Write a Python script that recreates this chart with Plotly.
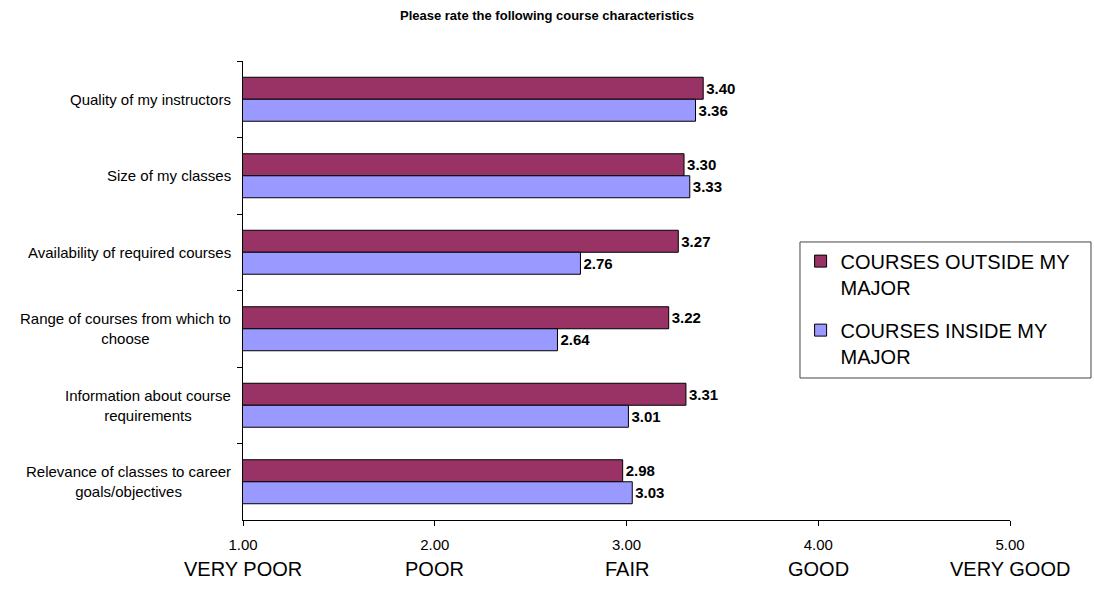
import plotly.graph_objects as go

categories = [
    "Quality of my instructors",
    "Size of my classes",
    "Availability of required courses",
    "Range of courses from which to<br>choose",
    "Information about course<br>requirements",
    "Relevance of classes to career<br>goals/objectives",
]
outside_major = [3.40, 3.30, 3.27, 3.22, 3.31, 2.98]
inside_major = [3.36, 3.33, 2.76, 2.64, 3.01, 3.03]
tick_values = [1, 2, 3, 4, 5]
tick_labels = ["1.00", "2.00", "3.00", "4.00", "5.00"]
scale_labels = ["VERY POOR", "POOR", "FAIR", "GOOD", "VERY GOOD"]

FONT = "Arial, Liberation Sans, sans-serif"

fig = go.Figure()
fig.add_trace(go.Bar(
    y=categories, x=outside_major, orientation="h",
    name="COURSES OUTSIDE MY<br>MAJOR", legendgroup="a",
    marker=dict(color="#993366", line=dict(color="black", width=1)),
    texttemplate="%{x:.2f}", textposition="outside",
    textfont=dict(family=FONT, size=15, color="black", weight="bold"),
    cliponaxis=False,
))
fig.add_trace(go.Bar(
    y=categories, x=inside_major, orientation="h",
    name="COURSES INSIDE MY<br>MAJOR", legendgroup="b",
    marker=dict(color="#9999FF", line=dict(color="black", width=1)),
    texttemplate="%{x:.2f}", textposition="outside",
    textfont=dict(family=FONT, size=15, color="black", weight="bold"),
    cliponaxis=False,
))

annotations = []
for c in categories:
    annotations.append(dict(
        x=0, xref="paper", xanchor="right", xshift=-10,
        y=c, yref="y", yanchor="middle",
        text=c, align="center", showarrow=False,
        font=dict(family=FONT, size=15, color="black"),
    ))
for v, s in zip(tick_values, scale_labels):
    annotations.append(dict(
        x=v, xref="x", xanchor="center",
        y=0, yref="paper", yanchor="middle", yshift=-49,
        text=s, showarrow=False,
        font=dict(family=FONT, size=20, color="black"),
    ))

fig.update_layout(
    width=1094, height=590,
    paper_bgcolor="white", plot_bgcolor="white",
    margin=dict(l=243, r=84, t=61, b=70),
    barmode="group", bargap=0.425, bargroupgap=0,
    font=dict(family=FONT, size=15, color="black"),
    title=dict(
        text="<b>Please rate the following course characteristics</b>",
        x=0.5, xanchor="center", y=1 - 15 / 590, yanchor="middle",
        font=dict(family=FONT, size=13, color="black"),
    ),
    xaxis=dict(
        range=[1, 5], tickvals=tick_values, ticktext=tick_labels,
        ticks="outside", ticklen=5, tickcolor="black",
        ticklabelstandoff=6,
        showline=True, linecolor="black", linewidth=1,
        showgrid=False, zeroline=False,
        tickfont=dict(family=FONT, size=15, color="black"),
    ),
    yaxis=dict(
        autorange="reversed", showticklabels=False,
        ticks="outside", ticklen=5, tickcolor="black", tickson="boundaries",
        showline=True, linecolor="black", linewidth=1,
        showgrid=False, zeroline=False,
    ),
    legend=dict(
        x=0.727, xanchor="left", y=0.6065, yanchor="top",
        borderwidth=0, bgcolor="rgba(0,0,0,0)",
        font=dict(family=FONT, size=20, color="black"),
        traceorder="grouped", itemwidth=30, valign="top",
        tracegroupgap=14,
    ),
    shapes=[dict(
        type="rect", xref="paper", yref="paper",
        x0=0.7262, x1=1.1056, y0=0.3094, y1=0.6057,
        line=dict(color="#444", width=1), fillcolor="white", layer="above",
    )],
    annotations=annotations,
)

fig.write_html(
    "out.html",
    config={"displayModeBar": False},
    post_script="document.body.style.margin='0';",
)
